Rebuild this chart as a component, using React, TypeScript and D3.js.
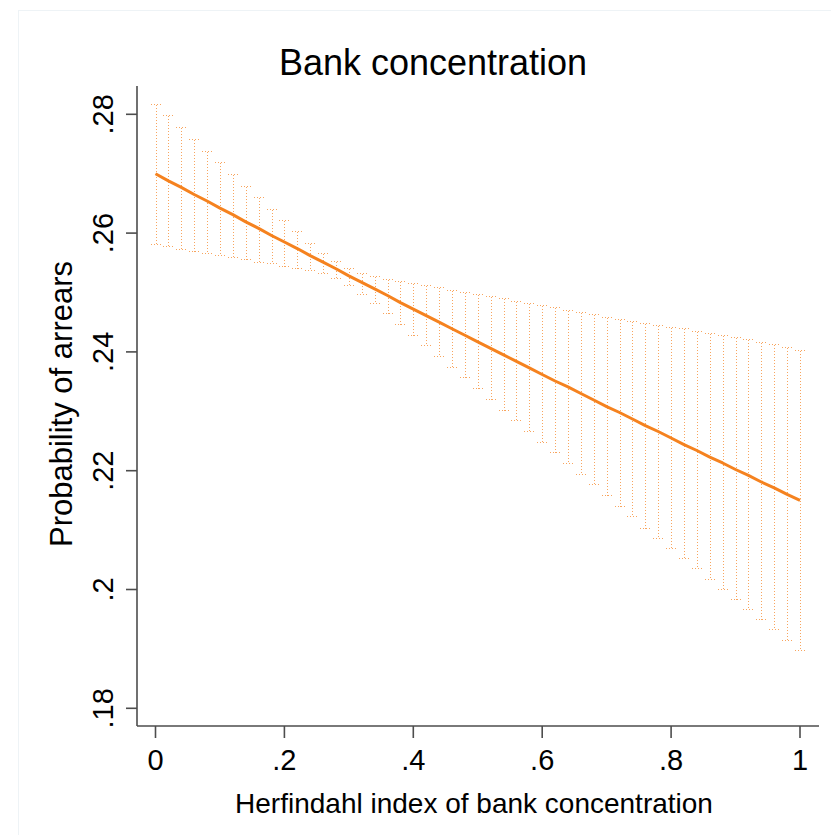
import React from "react";
import * as d3 from "d3";

// Herfindahl index grid (x) and predicted probability of arrears with 95% CI
const hhi = [
  0, 0.02, 0.04, 0.06, 0.08, 0.1, 0.12, 0.14, 0.16, 0.18,
  0.2, 0.22, 0.24, 0.26, 0.28, 0.3, 0.32, 0.34, 0.36, 0.38,
  0.4, 0.42, 0.44, 0.46, 0.48, 0.5, 0.52, 0.54, 0.56, 0.58,
  0.6, 0.62, 0.64, 0.66, 0.68, 0.7, 0.72, 0.74, 0.76, 0.78,
  0.8, 0.82, 0.84, 0.86, 0.88, 0.9, 0.92, 0.94, 0.96, 0.98, 1,
];

const predicted = [
  0.27, 0.2688, 0.2677, 0.2665, 0.2654, 0.2642, 0.2631, 0.2619, 0.2608, 0.2596,
  0.2585, 0.2574, 0.2562, 0.2551, 0.254, 0.2528, 0.2517, 0.2506, 0.2495, 0.2483,
  0.2472, 0.2461, 0.245, 0.2439, 0.2428, 0.2417, 0.2406, 0.2395, 0.2384, 0.2373,
  0.2362, 0.2351, 0.2341, 0.233, 0.2319, 0.2308, 0.2298, 0.2287, 0.2276, 0.2266,
  0.2255, 0.2244, 0.2234, 0.2223, 0.2213, 0.2202, 0.2192, 0.2181, 0.2171, 0.216, 0.215,
];

const upperCI = [
  0.2817, 0.2799, 0.2779, 0.2758, 0.2738, 0.2719, 0.27, 0.2679, 0.266, 0.2641,
  0.2622, 0.2603, 0.2584, 0.2567, 0.2553, 0.2541, 0.2533, 0.2527, 0.2523, 0.2519,
  0.2516, 0.2512, 0.2509, 0.2505, 0.2501, 0.2497, 0.2494, 0.249, 0.2486, 0.2482,
  0.2479, 0.2475, 0.2471, 0.2467, 0.2463, 0.2459, 0.2456, 0.2452, 0.2448, 0.2445,
  0.2442, 0.244, 0.2436, 0.2432, 0.2428, 0.2425, 0.2421, 0.2417, 0.2413, 0.2409, 0.2404,
];

const lowerCI = [
  0.2581, 0.2578, 0.2574, 0.257, 0.2566, 0.2563, 0.2559, 0.2556, 0.2552, 0.2549,
  0.2545, 0.2542, 0.2538, 0.2533, 0.2524, 0.2512, 0.2498, 0.2482, 0.2465, 0.2447,
  0.2429, 0.2411, 0.2393, 0.2375, 0.2357, 0.2339, 0.2321, 0.2303, 0.2285, 0.2267,
  0.2249, 0.2231, 0.2213, 0.2195, 0.2177, 0.2159, 0.2141, 0.2123, 0.2104, 0.2087,
  0.207, 0.2053, 0.2036, 0.2018, 0.2001, 0.1984, 0.1967, 0.195, 0.1933, 0.1915, 0.1898,
];

const xTicks = [0, 0.2, 0.4, 0.6, 0.8, 1];
const xTickLabels = ["0", ".2", ".4", ".6", ".8", "1"];
const yTicks = [0.18, 0.2, 0.22, 0.24, 0.26, 0.28];
const yTickLabels = [".18", ".2", ".22", ".24", ".26", ".28"];

const W = 831;
const H = 835;
const FONT = "'Liberation Sans', Arial, Helvetica, sans-serif";
const LINE_COLOR = "#f5821f";
const CI_COLOR = "#f8a55f";
const AXIS_COLOR = "#4d4d4d";

export default function App() {
  const x = d3.scaleLinear().domain([0, 1]).range([155.5, 800]);
  const y = d3.scaleLinear().domain([0.18, 0.28]).range([708.3, 114.3]);

  const axisX0 = 137;
  const axisX1 = 819;
  const axisY = 726;
  const axisTop = 86;

  const points = hhi.map((h, i) => [h, predicted[i]] as [number, number]);
  const line = d3
    .line<[number, number]>()
    .x((d) => x(d[0]))
    .y((d) => y(d[1]))(points);

  const capHalf = 6;

  return (
    <div style={{ position: "absolute", left: 0, top: 0, width: W, height: H, background: "#fff" }}>
      <svg width={W} height={H} style={{ display: "block" }}>
        <rect x={0} y={0} width={W} height={H} fill="#ffffff" />
        <rect x={18.5} y={10.5} width={W + 20} height={H + 20} fill="none" stroke="#eef3f6" strokeWidth={1} />

        {/* title */}
        <text x={433} y={75} textAnchor="middle" fontFamily={FONT} fontSize={36} fill="#000">
          Bank concentration
        </text>

        {/* confidence interval caps and spikes (snapped to the pixel grid) */}
        <g stroke={CI_COLOR} strokeWidth={1} fill="none" shapeRendering="crispEdges">
          {hhi.map((h, i) => {
            const cx = Math.round(x(h)) + 0.5;
            const yu = Math.round(y(upperCI[i])) + 0.5;
            const yl = Math.round(y(lowerCI[i])) + 0.5;
            return (
              <g key={i}>
                <line x1={cx} x2={cx} y1={yu} y2={yl} strokeDasharray="1 2" />
                <line x1={cx - capHalf} x2={cx + capHalf} y1={yu} y2={yu} strokeDasharray="1 2" />
                <line x1={cx - capHalf} x2={cx + capHalf} y1={yl} y2={yl} strokeDasharray="1 2" />
              </g>
            );
          })}
        </g>

        {/* predicted probability */}
        <path d={line ?? ""} fill="none" stroke={LINE_COLOR} strokeWidth={3} strokeLinejoin="round" />

        {/* y axis */}
        <line x1={axisX0} x2={axisX0} y1={axisTop} y2={axisY} stroke={AXIS_COLOR} strokeWidth={1.6} />
        {yTicks.map((t, i) => (
          <g key={t}>
            <line x1={axisX0 - 11} x2={axisX0} y1={y(t)} y2={y(t)} stroke={AXIS_COLOR} strokeWidth={1.6} />
            <text
              transform={`translate(113,${y(t)}) rotate(-90)`}
              textAnchor="middle"
              fontFamily={FONT}
              fontSize={29}
              fill="#000"
            >
              {yTickLabels[i]}
            </text>
          </g>
        ))}
        <text
          transform={`translate(72,404) rotate(-90)`}
          textAnchor="middle"
          fontFamily={FONT}
          fontSize={31}
          fill="#000"
        >
          Probability of arrears
        </text>

        {/* x axis */}
        <line x1={axisX0} x2={axisX1} y1={axisY} y2={axisY} stroke={AXIS_COLOR} strokeWidth={1.6} />
        {xTicks.map((t, i) => (
          <g key={t}>
            <line x1={x(t)} x2={x(t)} y1={axisY} y2={axisY + 12} stroke={AXIS_COLOR} strokeWidth={1.6} />
            <text x={x(t)} y={770} textAnchor="middle" fontFamily={FONT} fontSize={29} fill="#000">
              {xTickLabels[i]}
            </text>
          </g>
        ))}
        <text x={474} y={813} textAnchor="middle" fontFamily={FONT} fontSize={28} fill="#000">
          Herfindahl index of bank concentration
        </text>
      </svg>
    </div>
  );
}
